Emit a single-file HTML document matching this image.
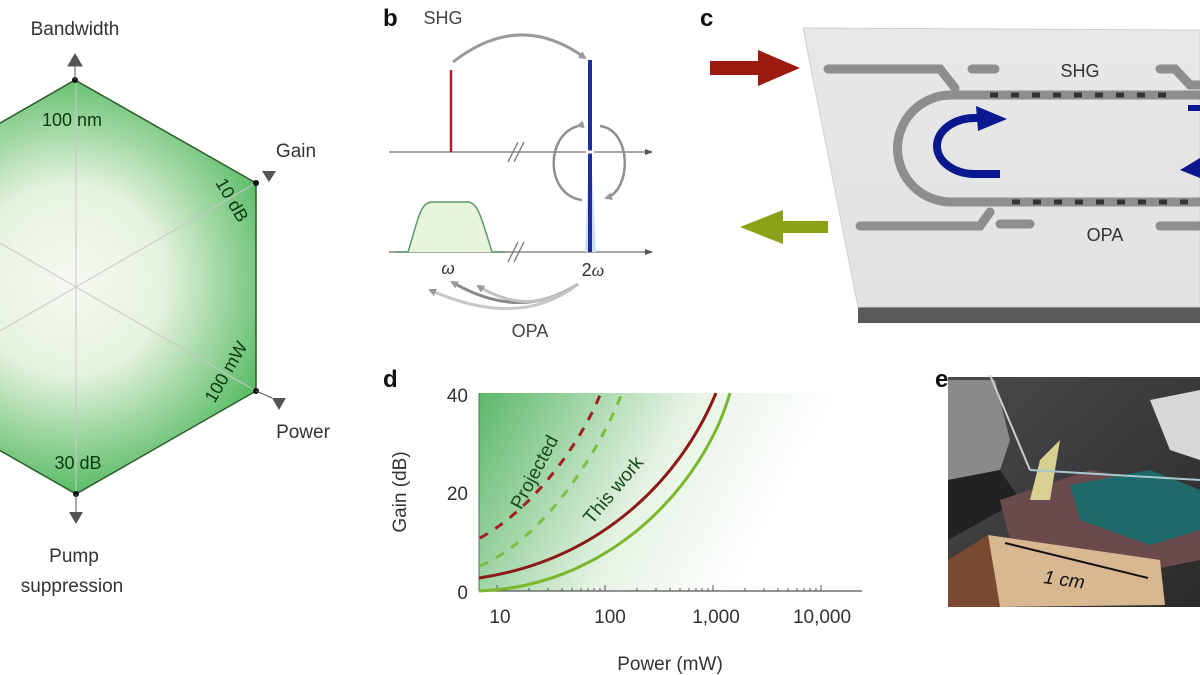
<!DOCTYPE html>
<html><head><meta charset="utf-8"><style>
html,body{margin:0;padding:0;background:#fff;width:1200px;height:675px;overflow:hidden}
svg{display:block}
text{font-family:"Liberation Sans",sans-serif}
</style></head><body>
<svg width="1200" height="675" viewBox="0 0 1200 675">
<defs>
<radialGradient id="hexg" cx="70" cy="280" r="210" gradientUnits="userSpaceOnUse">
<stop offset="0" stop-color="#f6f9f2"/><stop offset="0.45" stop-color="#e6f2df"/><stop offset="1" stop-color="#5cbd68"/></radialGradient>
<linearGradient id="plotg" x1="479" y1="393" x2="760" y2="540" gradientUnits="userSpaceOnUse">
<stop offset="0" stop-color="#5cb86a"/><stop offset="0.6" stop-color="#e6f3e4"/><stop offset="1" stop-color="#ffffff"/></linearGradient>
<linearGradient id="chip" x1="0" y1="0" x2="0" y2="1"><stop offset="0" stop-color="#e8e8e8"/><stop offset="1" stop-color="#e2e2e2"/></linearGradient>
<linearGradient id="photo" x1="0" y1="0" x2="1" y2="1"><stop offset="0" stop-color="#4a4a4c"/><stop offset="0.5" stop-color="#3a3a3c"/><stop offset="1" stop-color="#2c2a28"/></linearGradient>
<marker id="ga" markerWidth="8" markerHeight="8" refX="6" refY="4" orient="auto" markerUnits="userSpaceOnUse"><path d="M0,0 L8,4 L0,8 z" fill="#9a9a9a"/></marker>
<marker id="ax" markerWidth="8" markerHeight="6" refX="7" refY="3" orient="auto" markerUnits="userSpaceOnUse"><path d="M0,0 L8,3 L0,6 z" fill="#555"/></marker>
</defs>

<!-- Panel a: hexagon -->
<polygon points="75,80 256,183 256,391 76,494 -104,391 -104,183" fill="url(#hexg)" stroke="#2a5a2a" stroke-width="1.5"/>
<g stroke="#c8c8c8" stroke-width="1"><line x1="76" y1="80" x2="76" y2="494"/><line x1="-104" y1="183" x2="256" y2="391"/><line x1="-104" y1="391" x2="256" y2="183"/></g>
<g fill="#111"><circle cx="75" cy="80" r="3"/><circle cx="256" cy="183" r="3"/><circle cx="256" cy="391" r="3"/><circle cx="76" cy="494" r="3"/></g>
<g fill="#555" stroke="#555">
<line x1="75" y1="80" x2="75" y2="62"/><path d="M68,66 L75,54 L82,66z"/>
<path d="M262,171 L276,171 L269,182z" stroke="none"/>
<path d="M272,398 L286,398 L279,410z" stroke="none"/><line x1="256" y1="391" x2="272" y2="398"/>
<line x1="76" y1="494" x2="76" y2="512"/><path d="M69,512 L83,512 L76,524z" stroke="none"/>
</g>
<text x="75" y="35" font-size="19" fill="#333" text-anchor="middle">Bandwidth</text>
<text x="296" y="157" font-size="19" fill="#333" text-anchor="middle">Gain</text>
<text x="303" y="438" font-size="19" fill="#333" text-anchor="middle">Power</text>
<text x="74" y="562" font-size="19" fill="#333" text-anchor="middle">Pump</text>
<text x="72" y="592" font-size="19" fill="#333" text-anchor="middle">suppression</text>
<text x="72" y="126" font-size="18" fill="#0c3a10" text-anchor="middle">100 nm</text>
<text x="78" y="469" font-size="18" fill="#0c3a10" text-anchor="middle">30 dB</text>
<text transform="translate(232,200) rotate(60)" font-size="18" fill="#0c3a10" text-anchor="middle" dy="6">10 dB</text>
<text transform="translate(226,372) rotate(-60)" font-size="18" fill="#0c3a10" text-anchor="middle" dy="6">100 mW</text>

<!-- Panel b -->
<text x="383" y="26" font-size="24" font-weight="bold" fill="#111">b</text>
<text x="443" y="24" font-size="18" fill="#444" text-anchor="middle">SHG</text>
<path d="M453,62 Q520,10 585,58" fill="none" stroke="#9a9a9a" stroke-width="3" marker-end="url(#ga)"/>
<line x1="389" y1="152" x2="652" y2="152" stroke="#888" stroke-width="1.5" marker-end="url(#ax)"/>
<line x1="389" y1="252" x2="652" y2="252" stroke="#888" stroke-width="1.5" marker-end="url(#ax)"/>
<g stroke="#777" stroke-width="1.3"><line x1="508" y1="162" x2="518" y2="142"/><line x1="514" y1="162" x2="524" y2="142"/><line x1="508" y1="262" x2="518" y2="242"/><line x1="514" y1="262" x2="524" y2="242"/></g>
<line x1="451" y1="70" x2="451" y2="152" stroke="#b01c2c" stroke-width="2.5"/>
<path d="M585,252 L589,150 L591,150 L596,252z" fill="#cfdcf5"/>
<line x1="590" y1="60" x2="590" y2="252" stroke="#1d2fa0" stroke-width="4"/>
<line x1="586" y1="152" x2="594" y2="152" stroke="#fff" stroke-width="3"/>
<path d="M578,126 C545,135 545,195 582,200" fill="none" stroke="#8f8f8f" stroke-width="2.5" marker-start="url(#ga)"/>
<path d="M600,126 C632,130 632,190 606,198" fill="none" stroke="#8f8f8f" stroke-width="2.5" marker-end="url(#ga)"/>
<path d="M395,252 L408,252 C418,220 420,202 432,202 L468,202 C478,202 482,220 492,252 L505,252" fill="#e8f4dc" stroke="#5a9a6a" stroke-width="1.5"/>
<text x="448" y="274" font-size="17" font-style="italic" fill="#333" text-anchor="middle" font-family="Liberation Serif">ω</text>
<text x="593" y="276" font-size="18" fill="#333" text-anchor="middle"><tspan>2</tspan><tspan font-style="italic" font-family="Liberation Serif">ω</tspan></text>
<path d="M578,284 Q520,330 430,290" fill="none" stroke="#c8c8c8" stroke-width="3" marker-end="url(#ga)"/>
<path d="M578,284 Q520,322 452,282" fill="none" stroke="#888" stroke-width="3" marker-end="url(#ga)"/>
<path d="M578,284 Q530,318 478,286" fill="none" stroke="#c0c0c0" stroke-width="3" marker-end="url(#ga)"/>
<text x="530" y="337" font-size="18" fill="#444" text-anchor="middle">OPA</text>

<!-- Panel c -->
<text x="700" y="26" font-size="24" font-weight="bold" fill="#111">c</text>
<polygon points="858,307 1200,307 1200,323 858,323" fill="#5a5a5a"/>
<polygon points="803,28 1200,30 1200,307 858,307" fill="url(#chip)" stroke="#cfcfcf"/>
<path d="M710,68 L765,68" stroke="#9a1a10" stroke-width="14"/><path d="M758,50 L800,68 L758,86z" fill="#9a1a10"/>
<path d="M828,227 L778,227" stroke="#8aa218" stroke-width="12"/><path d="M783,210 L740,227 L783,244z" fill="#8aa218"/>
<g fill="none" stroke="#8e8e8e" stroke-width="9" stroke-linecap="round">
<path d="M828,69 L940,69 L955,88"/>
<path d="M972,69 L995,69"/>
<path d="M1160,69 L1175,69 L1190,85 L1200,85"/>
<path d="M860,226 L980,226 L990,212"/>
<path d="M1000,224 L1030,224"/>
<path d="M1160,226 L1200,226"/>
<path d="M1200,95 L951,95 A53,53 0 0 0 951,202 L1200,202"/>
</g>
<g stroke="#333" stroke-width="5" stroke-dasharray="8,13"><line x1="990" y1="95" x2="1172" y2="95"/><line x1="1012" y1="202" x2="1200" y2="202"/></g>
<text x="1080" y="77" font-size="18" fill="#333" text-anchor="middle">SHG</text>
<text x="1105" y="241" font-size="18" fill="#333" text-anchor="middle">OPA</text>
<path d="M1000,174 L975,174 A38,28 0 0 1 975,118 L985,118" fill="none" stroke="#0a1890" stroke-width="8"/>
<path d="M976,106 L1007,119 L978,131z" fill="#0a1890"/>
<path d="M1188,108 L1200,108" stroke="#0a1890" stroke-width="6"/>
<path d="M1200,158 L1180,170 L1200,178z" fill="#0a1890"/>

<!-- Panel d -->
<text x="383" y="387" font-size="24" font-weight="bold" fill="#111">d</text>
<rect x="479" y="393" width="383" height="198" fill="url(#plotg)"/>
<line x1="479" y1="393" x2="479" y2="591" stroke="#666"/>
<line x1="479" y1="591" x2="862" y2="591" stroke="#555" stroke-width="1.2"/>
<g stroke="#555" stroke-width="1">
<path d="M497,591v-6M529,591v-3M548,591v-3M562,591v-3M572,591v-3M581,591v-3M588,591v-3M594,591v-3M600,591v-3M605,591v-6M637,591v-3M656,591v-3M670,591v-3M680,591v-3M689,591v-3M696,591v-3M702,591v-3M708,591v-3M713,591v-6M745,591v-3M764,591v-3M778,591v-3M788,591v-3M797,591v-3M804,591v-3M810,591v-3M816,591v-3M821,591v-6"/>
</g>
<path d="M479,578 C600,560 680,480 716,393" fill="none" stroke="#8b1a18" stroke-width="3"/>
<path d="M479,591 C615,586 705,480 730,393" fill="none" stroke="#7ab82a" stroke-width="3"/>
<path d="M480,538 C535,508 582,440 600,395" fill="none" stroke="#a02020" stroke-width="3" stroke-dasharray="9,9"/>
<path d="M480,566 C545,538 600,450 622,393" fill="none" stroke="#7ac040" stroke-width="3" stroke-dasharray="9,9"/>
<text transform="translate(540,475) rotate(-62)" font-size="19" fill="#1a4a1a" text-anchor="middle">Projected</text>
<text transform="translate(618,494) rotate(-50)" font-size="19" fill="#1a4a1a" text-anchor="middle">This work</text>
<text x="468" y="402" font-size="19" fill="#333" text-anchor="end">40</text>
<text x="468" y="500" font-size="19" fill="#333" text-anchor="end">20</text>
<text x="468" y="599" font-size="19" fill="#333" text-anchor="end">0</text>
<text x="500" y="623" font-size="19" fill="#333" text-anchor="middle">10</text>
<text x="610" y="623" font-size="19" fill="#333" text-anchor="middle">100</text>
<text x="716" y="623" font-size="19" fill="#333" text-anchor="middle">1,000</text>
<text x="822" y="623" font-size="19" fill="#333" text-anchor="middle">10,000</text>
<text x="670" y="670" font-size="19" fill="#333" text-anchor="middle">Power (mW)</text>
<text transform="translate(406,492) rotate(-90)" font-size="19" fill="#333" text-anchor="middle">Gain (dB)</text>

<!-- Panel e -->
<text x="935" y="387" font-size="24" font-weight="bold" fill="#111">e</text>
<rect x="948" y="377" width="252" height="230" fill="url(#photo)"/>
<path d="M948,380 L995,380 L1010,440 L1000,470 L948,480z" fill="#8a8a8a"/>
<path d="M948,480 L1000,470 L1020,500 L948,540z" fill="#222"/>
<path d="M1150,400 L1200,390 L1200,460 L1170,450z" fill="#d8d8d8"/>
<path d="M1000,500 L1090,470 L1200,490 L1200,560 L1150,570 L1010,540z" fill="#6b4a4e"/>
<path d="M1070,485 L1150,470 L1200,490 L1200,530 L1150,545 L1080,520z" fill="#1e6a6a"/>
<path d="M1040,460 L1060,440 L1050,500 L1030,500z" fill="#d8d090"/>
<path d="M990,375 L1030,470" stroke="#ccc" stroke-width="2"/>
<line x1="1030" y1="470" x2="1200" y2="480" stroke="#a8c8d0" stroke-width="2"/>
<path d="M988,535 L1160,560 L1165,605 L1000,607z" fill="#d8b890"/>
<path d="M948,560 L988,535 L1000,607 L948,607z" fill="#7a4a30"/>
<line x1="1005" y1="543" x2="1148" y2="578" stroke="#111" stroke-width="2"/>
<text transform="translate(1043,583) rotate(8)" font-size="19" font-style="italic" fill="#111">1 cm</text>
</svg>
</body></html>
